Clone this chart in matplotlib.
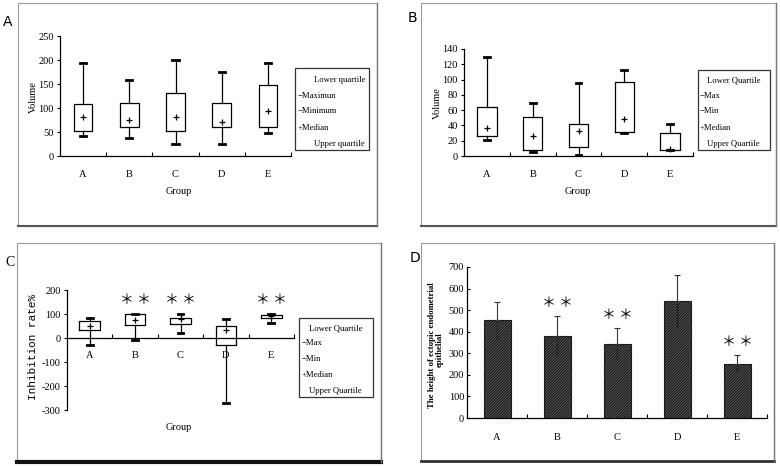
import matplotlib
matplotlib.use('Agg')
import matplotlib.pyplot as plt
from matplotlib.patches import Rectangle
from matplotlib.lines import Line2D
from matplotlib.ticker import FixedLocator, NullFormatter, FixedFormatter

W, H = 780, 466
plt.rcParams['font.family'] = ['Liberation Serif', 'Noto Sans CJK SC', 'DejaVu Sans']
plt.rcParams['hatch.linewidth'] = 1.0
plt.rcParams['axes.unicode_minus'] = False

groups = ['A', 'B', 'C', 'D', 'E']

# Panel A: tumour volume (box plot)
a_max = [194, 159, 201, 176, 194]
a_min = [41, 38, 25, 25, 47]
a_q3 = [109, 111, 132, 111, 147]
a_q1 = [53, 60, 53, 60, 60]
a_med = [81, 76, 81, 70, 94]
a_yticks = [0, 50, 100, 150, 200, 250]

# Panel B: volume (box plot)
b_max = [130, 70, 95, 112, 42]
b_min = [21, 5, 1, 30, 8]
b_q3 = [64, 51, 42, 97, 30]
b_q1 = [26, 8, 12, 31, 8]
b_med = [37, 26, 33, 48, 9]
b_yticks = [0, 20, 40, 60, 80, 100, 120, 140]

# Panel C: inhibition rate (box plot)
c_max = [82, 99, 101, 79, 101]
c_min = [-29, -7, 19, -271, 61]
c_q3 = [72, 99, 83, 50, 97]
c_q1 = [35, 56, 60, -28, 83]
c_med = [49, 75, 79, 33, 93]
c_sig = ['', '＊ ＊', '＊ ＊', '', '＊ ＊']
c_yticks = [-300, -200, -100, 0, 100, 200]

# Panel D: height of ectopic endometrial epithelial (bar + error)
d_mean = [453, 382, 344, 543, 251]
d_err = [87, 93, 75, 119, 40]
d_sig = ['', '＊ ＊', '＊ ＊', '', '＊ ＊']
d_yticks = [0, 100, 200, 300, 400, 500, 600, 700]

legend_A = ['Lower quartile', '−Maximun', '−Minimum', '+Median', 'Upper quartile']
legend_BC = ['Lower Quartile', '−Max', '−Min', '+Median', 'Upper Quartile']

fig = plt.figure(figsize=(W / 100, H / 100), dpi=100)


def add_ax(x0, y0, x1, y1):
    return fig.add_axes([x0 / W, 1 - y1 / H, (x1 - x0) / W, (y1 - y0) / H])


def ftext(x, y, s, **kw):
    fig.text(x / W, 1 - y / H, s, **kw)


def frame(x0, y0, x1, y1, bottom_lw=1.5, bottom_color='#555555'):
    fig.add_artist(Rectangle((x0 / W, 1 - y1 / H), (x1 - x0) / W, (y1 - y0) / H,
                             transform=fig.transFigure, fill=False,
                             ec='#9a9a9a', lw=0.8))
    fig.add_artist(Line2D([x0 / W, x1 / W], [1 - y1 / H, 1 - y1 / H],
                          transform=fig.transFigure, color=bottom_color,
                          lw=bottom_lw))
    fig.add_artist(Line2D([x1 / W, x1 / W], [1 - y0 / H, 1 - y1 / H],
                          transform=fig.transFigure, color='#777777', lw=1.0))


def style_axes(ax, yticks, ylim, ytick_dir='out', label_pad=10):
    n = len(groups)
    ax.set_xlim(0.5, n + 0.5)
    ax.set_ylim(*ylim)
    for s in ['top', 'right']:
        ax.spines[s].set_visible(False)
    for s in ['left', 'bottom']:
        ax.spines[s].set_linewidth(0.9)
    ax.set_facecolor('none')
    ax.xaxis.set_major_locator(FixedLocator([i + 1.5 for i in range(n)]))
    ax.xaxis.set_major_formatter(NullFormatter())
    ax.xaxis.set_minor_locator(FixedLocator([i + 1 for i in range(n)]))
    ax.xaxis.set_minor_formatter(FixedFormatter(groups))
    ax.tick_params(axis='x', which='major', direction='in', length=3, width=0.8)
    ax.tick_params(axis='x', which='minor', length=0, pad=label_pad, labelsize=7.5)
    ax.set_yticks(yticks)
    ax.tick_params(axis='y', direction=ytick_dir, length=2.5, width=0.8,
                   labelsize=7.5, pad=2)


def box_panel(ax, q1, q3, lo, hi, med, width):
    stats = [dict(med=m, q1=a, q3=b, whislo=l, whishi=h)
             for a, b, l, h, m in zip(q1, q3, lo, hi, med)]
    pos = list(range(1, len(stats) + 1))
    ax.bxp(stats, positions=pos, widths=width, showfliers=False,
           boxprops=dict(color='k', lw=0.9),
           whiskerprops=dict(color='k', lw=0.9),
           capprops=dict(color='k', lw=2.0),
           medianprops=dict(lw=0),
           capwidths=0.13)
    ax.plot(pos, med, '+', color='k', ms=5, mew=0.9, zorder=5)


def legend_box(x0, y0, x1, y1, lines, ys, xs, fs=6.2):
    fig.add_artist(Rectangle((x0 / W, 1 - y1 / H), (x1 - x0) / W, (y1 - y0) / H,
                             transform=fig.transFigure, fill=True, fc='white',
                             ec='#333333', lw=0.9))
    for s, y, x in zip(lines, ys, xs):
        ftext(x, y, s, fontsize=fs, va='center', ha='left')


# ---------------- frames ----------------
frame(18, 3, 377, 226)
frame(421, 3, 776, 226)
frame(17, 243, 381, 462, bottom_lw=3.0, bottom_color='#111111')
frame(421, 243, 774, 461, bottom_lw=2.0, bottom_color='#333333')

# ---------------- Panel A ----------------
axA = add_ax(60, 36, 291, 156)
box_panel(axA, a_q1, a_q3, a_min, a_max, a_med, 0.4)
style_axes(axA, a_yticks, (0, 250), label_pad=10)
ftext(179, 192, 'Group', fontsize=7.5, ha='center', va='center')
ftext(33, 97, 'Volume', fontsize=7.5, ha='center', va='center', rotation=90)
ftext(8, 22, 'A', fontsize=10, ha='center', va='center', family='DejaVu Sans')
legend_box(295, 68, 369, 150, legend_A, [80, 96, 111, 128, 144],
           [314, 298, 298, 298, 314])

# ---------------- Panel B ----------------
axB = add_ax(464, 49, 693, 156)
box_panel(axB, b_q1, b_q3, b_min, b_max, b_med, 0.42)
style_axes(axB, b_yticks, (0, 140), label_pad=10)
ftext(578, 192, 'Group', fontsize=7.5, ha='center', va='center')
ftext(437, 103, 'Volume', fontsize=7.5, ha='center', va='center', rotation=90)
ftext(412, 18, 'B', fontsize=10, ha='center', va='center', family='DejaVu Sans')
legend_box(698, 70, 770, 150, legend_BC, [80, 96, 111, 128, 144],
           [707, 700, 700, 700, 707])

# ---------------- Panel C ----------------
axC = add_ax(67, 290, 294, 410)
box_panel(axC, c_q1, c_q3, c_min, c_max, c_med, 0.45)
style_axes(axC, c_yticks, (-300, 200), label_pad=9)
axC.spines['bottom'].set_position(('data', 0))
for i, s in enumerate(c_sig):
    if s:
        axC.text(i + 1, 158, s, ha='center', va='center', fontsize=10,
                 family=['Noto Sans CJK SC', 'DejaVu Sans'])
ftext(179, 428, 'Group', fontsize=7.5, ha='center', va='center')
ftext(33, 347, 'Inhibition rate%', fontsize=8, ha='center', va='center',
      rotation=90, family='Liberation Mono')
ftext(10, 263, 'C', fontsize=10, ha='center', va='center')
legend_box(299, 318, 373, 397, legend_BC, [328, 343, 359, 375, 391],
           [309, 302, 302, 302, 309])

# ---------------- Panel D ----------------
axD = add_ax(467, 267, 767, 418)
pos = list(range(1, len(groups) + 1))
axD.bar(pos, d_mean, width=0.45, color='#7a7a7a', edgecolor='#1a1a1a',
        hatch='////////////', lw=0.8, zorder=2)
axD.errorbar(pos, d_mean, yerr=[[0] * len(d_err), d_err], fmt='none',
             ecolor='#333333', elinewidth=0.8, capsize=2, capthick=0.8, zorder=3)
axD.vlines(pos, [m - e for m, e in zip(d_mean, d_err)], d_mean,
           colors='#111111', linestyles=(0, (1, 1)), lw=1.0, zorder=3)
style_axes(axD, d_yticks, (0, 700), ytick_dir='in', label_pad=11)
for i, s in enumerate(d_sig):
    if s:
        axD.text(i + 1, d_mean[i] + d_err[i] + 60, s, ha='center', va='center',
                 fontsize=10, family=['Noto Sans CJK SC', 'DejaVu Sans'])
ftext(432, 345, 'The height of ectopic endometrial', fontsize=6.3,
      fontweight='bold', ha='center', va='center', rotation=90)
ftext(440, 350, 'epithelial', fontsize=6.3, fontweight='bold',
      ha='center', va='center', rotation=90)
ftext(415, 258, 'D', fontsize=10, ha='center', va='center', family='DejaVu Sans')

fig.savefig('out.png', dpi=100)
